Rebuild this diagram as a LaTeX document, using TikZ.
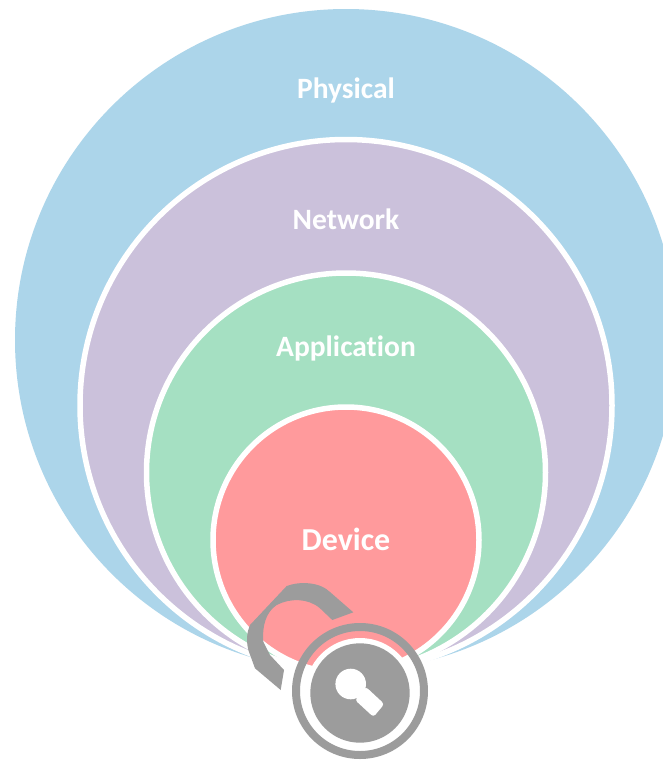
\documentclass[tikz,border=0pt]{standalone}
\usepackage{fontspec}
\setmainfont[Ligatures=NoCommon]{Carlito}
\definecolor{physcol}{HTML}{ACD5EA}
\definecolor{netcol}{HTML}{CBC1DB}
\definecolor{appcol}{HTML}{A5E0C2}
\definecolor{devcol}{HTML}{FF9A9C}
\definecolor{lockcol}{HTML}{9C9C9C}
\tikzset{
  layer/.style={draw=white,line width=5.5pt},
  layertext/.style={text=white,font=\fontsize{29.5}{33}\selectfont\bfseries,inner sep=0pt,anchor=center},
}
\begin{document}
\begin{tikzpicture}[x=1pt,y=-1pt]
\useasboundingbox (0,0) rectangle (663,761);
\clip (0,0) rectangle (663,761);
\fill[white] (0,0) rectangle (663,761);
\fill[physcol] (346,340) circle[radius=331];
\filldraw[layer,fill=netcol] (346,405.5) circle[radius=266];
\filldraw[layer,fill=appcol] (346,472.5) circle[radius=199.5];
\filldraw[layer,fill=devcol] (346,540) circle[radius=133];
\node[layertext] (physical) at (346,90) {Physical};
\node[layertext] (network) at (346,219) {Network};
\node[layertext] (application) at (346,348) {Application};
\node[layertext,font=\fontsize{32}{36}\selectfont\bfseries] (device) at (346,539) {Device};
% shackle
\fill[lockcol] (286.7,586) .. controls (300,581) and (320,582) .. (330,592)
  -- (353.3,612.3) -- (332.3,620) -- (320,608.3)
  .. controls (308,598) and (290,598) .. (276.7,605)
  .. controls (266,612) and (262,626) .. (263.3,641.7)
  -- (270,655) -- (284,670) -- (280.7,690) -- (255,668.3) -- (248.3,650)
  .. controls (246,640) and (247,632) .. (250,625) -- cycle;
% ring and keyhole
\fill[white] (360,693) circle[radius=55];
\draw[lockcol,line width=8pt] (360,691) circle[radius=64];
\fill[lockcol] (360,693) circle[radius=49.7];
\fill[white] (350.7,684) circle[radius=15.3];
\fill[white,rounded corners=3pt] (365.7,686.7) -- (384.3,704) -- (373.5,717) -- (355,700) -- cycle;
\end{tikzpicture}
\end{document}
